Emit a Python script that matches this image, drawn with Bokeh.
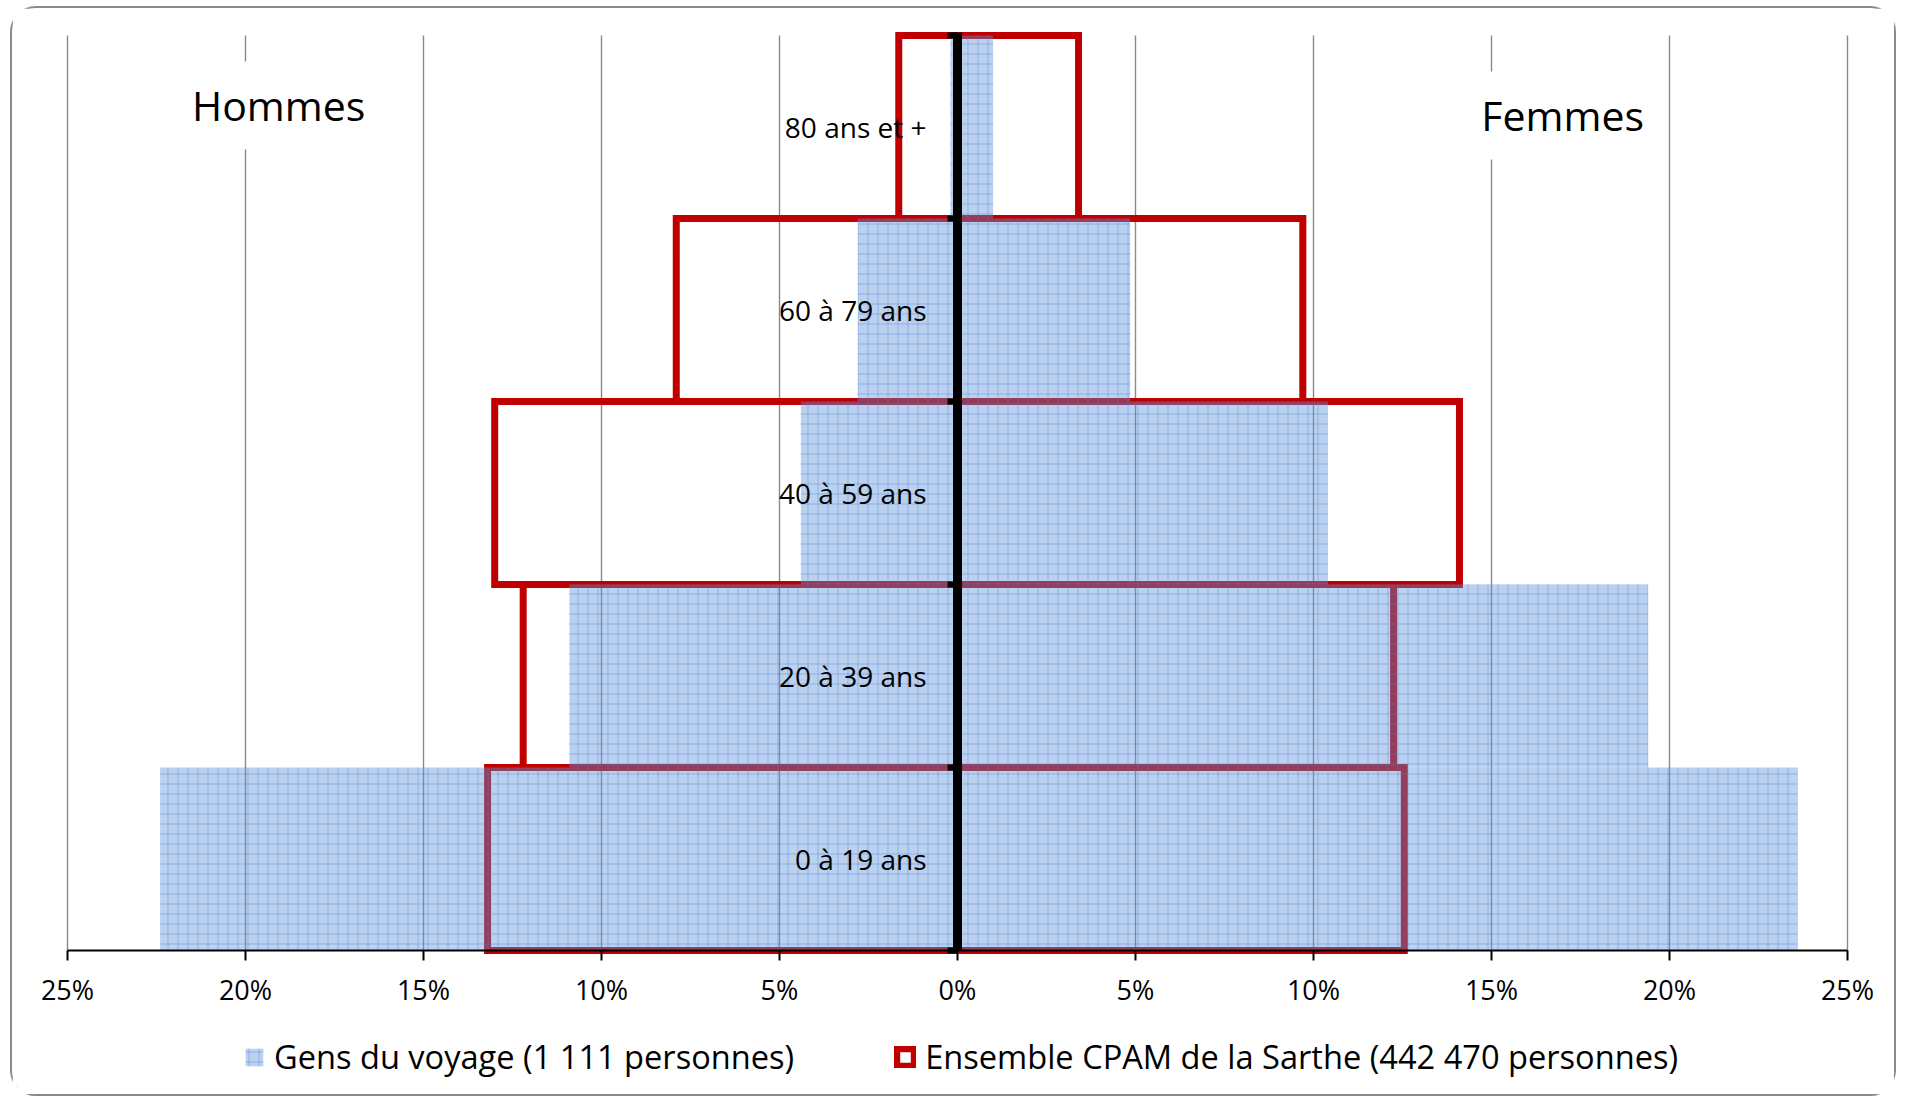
from bokeh.plotting import figure
from bokeh.models import (Range1d, LinearAxis, FixedTicker, Legend, LegendItem,
                          Label, ColumnDataSource)
from bokeh.embed import file_html
from bokeh.resources import INLINE

# ---------------- data ----------------
categories = ["0 à 19 ans", "20 à 39 ans", "40 à 59 ans", "60 à 79 ans", "80 ans et +"]
hommes_gdv = [22.4, 10.9, 4.4, 2.8, 0.2]      # Gens du voyage, hommes (%)
femmes_gdv = [23.6, 19.4, 10.4, 4.85, 1.0]    # Gens du voyage, femmes (%)
hommes_cpam = [13.2, 12.2, 13.0, 7.9, 1.65]   # Ensemble CPAM, hommes (%)
femmes_cpam = [12.55, 12.25, 14.1, 9.7, 3.4]  # Ensemble CPAM, femmes (%)
x_ticks = [-25, -20, -15, -10, -5, 0, 5, 10, 15, 20, 25]
x_tick_labels = ["25%", "20%", "15%", "10%", "5%", "0%", "5%", "10%", "15%", "20%", "25%"]
legend_labels = ["Gens du voyage (1 111 personnes)",
                 "Ensemble CPAM de la Sarthe (442 470 personnes)"]
side_labels = ["Hommes", "Femmes"]

FONT = "Open Sans"
N = len(categories)

ypos = [i + 0.5 for i in range(N)]
src_gdv = ColumnDataSource(dict(y=ypos, left=[-v for v in hommes_gdv], right=femmes_gdv))
src_cpam = ColumnDataSource(dict(y=ypos, left=[-v for v in hommes_cpam], right=femmes_cpam))

# frame geometry: 35.6 px per percent, 183 px per age class
W, H = 1886, 1090
BL, BR, BT = 5, 1, 23
PXX = 35.6
PX = 183.0
half = (W - BL - BR) / PXX / 2.0
p = figure(width=W, height=H, output_backend="svg", toolbar_location=None,
           x_range=Range1d(-half, half),
           y_range=Range1d(N + 4 / PX - (H - BT) / PX, N + 4 / PX),
           x_axis_location=None, y_axis_location=None,
           min_border_left=BL, min_border_right=BR, min_border_top=BT, min_border_bottom=0)
p.styles = {"border": "2px solid #8a8a8a", "border-radius": "26px",
            "margin-left": "10px", "margin-top": "6px"}
p.outline_line_color = None
p.background_fill_color = "white"
p.border_fill_color = "white"
p.xgrid.visible = False
p.ygrid.visible = False

# vertical gridlines (stop at the axis)
p.segment(x0=x_ticks, y0=[0] * len(x_ticks), x1=x_ticks, y1=[N] * len(x_ticks),
          line_color="#8a8a8a", line_width=1.4)

# bars
r_cpam = p.hbar(y="y", left="left", right="right", height=1.0, source=src_cpam,
                fill_color=None, line_color="#c00000", line_width=7, line_join="miter")
r_gdv = p.hbar(y="y", left="left", right="right", height=1.0, source=src_gdv,
               fill_color="#5c91dc", fill_alpha=0.42, line_color=None,
               hatch_pattern="+", hatch_color="#4a7fd0", hatch_alpha=0.38,
               hatch_scale=10, hatch_weight=1)

# x axis, fixed at y = 0
xa = LinearAxis(fixed_location=0, bounds=(-25, 25), ticker=FixedTicker(ticks=x_ticks))
xa.major_label_overrides = {t: l for t, l in zip(x_ticks, x_tick_labels)}
xa.axis_line_color = "black"
xa.axis_line_width = 2
xa.major_tick_line_color = "black"
xa.major_tick_line_width = 2
xa.major_tick_out = 10
xa.major_tick_in = 0
xa.minor_tick_line_color = None
xa.major_label_text_font = FONT
xa.major_label_text_font_size = "27px"
xa.major_label_text_color = "black"
xa.major_label_standoff = 10
p.add_layout(xa, "below")

# central vertical axis with category labels
ya = LinearAxis(fixed_location=0, bounds=(0, N + 3 / PX),
                ticker=FixedTicker(ticks=ypos, minor_ticks=list(range(N + 1))))
ya.major_label_overrides = {y: c for y, c in zip(ypos, categories)}
ya.axis_line_color = "black"
ya.axis_line_width = 9
ya.major_tick_out = 0
ya.major_tick_in = 0
ya.minor_tick_out = 10
ya.minor_tick_in = 0
ya.minor_tick_line_color = "black"
ya.minor_tick_line_width = 6
ya.major_label_text_font = FONT
ya.major_label_text_font_size = "28px"
ya.major_label_text_color = "black"
ya.major_label_standoff = 21
p.add_layout(ya, "left")

# side labels
for txt, xv, yv in zip(side_labels, [-19.07, 17.0], [4.618, 4.563]):
    p.add_layout(Label(x=xv, y=yv, text=txt, text_align="center", text_baseline="alphabetic",
                       text_font=FONT, text_font_size="41px", text_color="black",
                       background_fill_color="white", padding=16))

# legend
legend = Legend(items=[LegendItem(label=legend_labels[0], renderers=[r_gdv]),
                       LegendItem(label=legend_labels[1], renderers=[r_cpam])],
                location=(226, 19), orientation="horizontal",
                label_text_font=FONT, label_text_font_size="32.6px", label_text_color="black",
                glyph_width=22, glyph_height=22, label_standoff=9, spacing=100,
                padding=0, margin=0, border_line_color=None, background_fill_alpha=0)
p.add_layout(legend, "center")

open("out.html", "w").write(file_html(p, INLINE))
